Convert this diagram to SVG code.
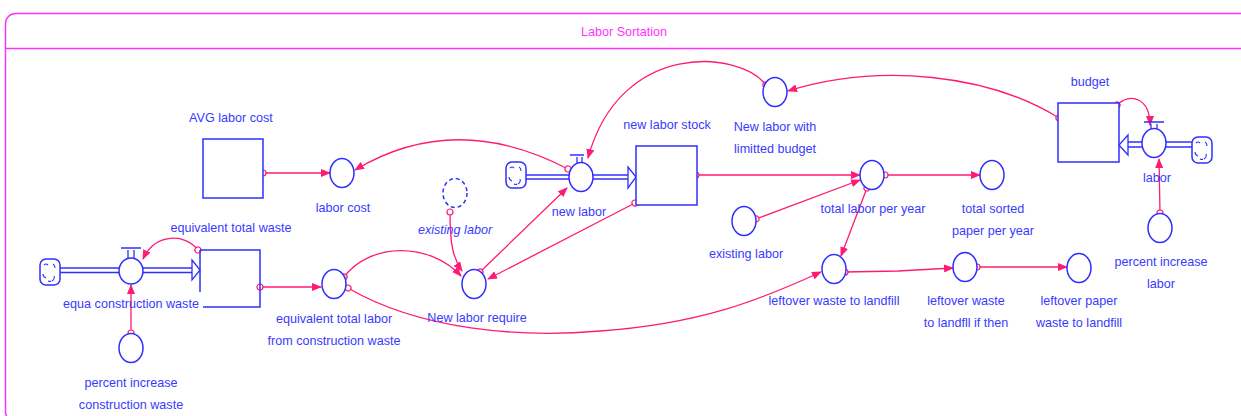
<svg xmlns="http://www.w3.org/2000/svg" width="1241" height="416" viewBox="0 0 1241 416">
<defs>
<style>
.t{font-family:"Liberation Sans",Arial,sans-serif;font-size:12.6px;fill:#3a3aff;text-anchor:middle}
.ti{font-style:italic}
.node{fill:#fff;stroke:#2f2fff;stroke-width:1.5}
.dash{stroke-dasharray:4,3}
.c{fill:none;stroke:#ff1a75;stroke-width:1.3;marker-start:url(#src);marker-end:url(#arr)}
.pipe{fill:none;stroke:#2f2fff;stroke-width:1.3}
.frame{fill:none;stroke:#ff33ff;stroke-width:1.5}
</style>
<marker id="arr" markerUnits="userSpaceOnUse" markerWidth="10" markerHeight="8" refX="9" refY="4" orient="auto"><path d="M0,0 L10,4 L0,8 z" fill="#ff1a75"/></marker>
<marker id="src" markerUnits="userSpaceOnUse" markerWidth="9" markerHeight="9" refX="4.5" refY="4.5" orient="auto"><circle cx="4.5" cy="4.5" r="3" fill="#fff" stroke="#ff1a75" stroke-width="1.2"/></marker>
<g id="cloud"><rect x="-10" y="-13" width="20" height="26" rx="6" class="node"/><path d="M-6,-7 q2,-2 4,0 M3,-8 q2,1 2,4 M-7,2 q0,3 3,4 M4,4 q1,3 -2,5 M-2,9 q2,1 3,0" fill="none" stroke="#2f2fff" stroke-width="1.1"/></g>
</defs>
<rect class="frame" x="5.5" y="13.5" width="1250" height="408" rx="10"/>
<line class="frame" x1="5.5" y1="48.5" x2="1241" y2="48.5"/>
<text x="624" y="36" style="font-family:'Liberation Sans',Arial,sans-serif;font-size:12.6px;fill:#ff33ff;text-anchor:middle">Labor Sortation</text>

<g id="connectors">
<path class="c" d="M263,173 L330,173"/>
<path class="c" d="M568,169 Q455,110 355,170"/>
<path class="c" d="M766,85 C740,50 620,40 588,158"/>
<path class="c" d="M1059,118 C990,75 880,62 788,91"/>
<path class="c" d="M1117,105 C1130,92 1150,98 1150,125"/>
<path class="c" d="M1160,213 L1159,159"/>
<path class="c" d="M696,175 L860,175"/>
<path class="c" d="M756,219 L860,180"/>
<path class="c" d="M885,175 L980,175"/>
<path class="c" d="M867,188 L841,256"/>
<path class="c" d="M845,272 L898,271 L953,268"/>
<path class="c" d="M977,267 L1067,267"/>
<path class="c" d="M344,277 C370,242 430,242 461,276"/>
<path class="c" d="M348,288 C420,330 520,338 600,331 C700,324 760,300 821,272"/>
<path class="c" d="M450,212 C450,245 453,258 462,271"/>
<path class="c" d="M480,272 L567,188"/>
<path class="c" d="M635,203 L488,279"/>
<path class="c" d="M260,287 L321,287"/>
<path class="c" d="M198,250 C185,233 155,233 143,259"/>
<path class="c" d="M131,333 L131,285"/>
</g>

<g id="flow-equa-construction-waste">
<use href="#cloud" x="50" y="272"/>
<line class="pipe" x1="60" y1="268" x2="193" y2="268"/>
<line class="pipe" x1="60" y1="272.5" x2="193" y2="272.5"/>
<path d="M192,260 L200,270 L192,280 z" fill="#fff" stroke="#2f2fff" stroke-width="1.3"/>
<ellipse class="node" cx="131" cy="271" rx="12" ry="13"/>
<path d="M121,248 L141,248 M128,250 L128,258 M134,250 L134,258" class="pipe" stroke-width="2"/>
<text class="t" x="131" y="308">equa construction waste</text>
</g>

<g id="stock-equivalent-total-waste">
<path d="M200,250 L200,292 M200,250 L260,250 L260,307 L203,307" fill="none" stroke="#2f2fff" stroke-width="1.5"/>
<text class="t" x="231" y="232">equivalent total waste</text>
</g>

<g id="aux-percent-increase-construction-waste">
<ellipse class="node" cx="131" cy="348" rx="12" ry="14.5"/>
<text class="t" x="131" y="387">percent increase</text>
<text class="t" x="131" y="409">construction waste</text>
</g>

<g id="aux-equivalent-total-labor">
<ellipse class="node" cx="334" cy="284" rx="12" ry="14.5"/>
<text class="t" x="334" y="323">equivalent total labor</text>
<text class="t" x="334" y="345">from construction waste</text>
</g>

<g id="stock-avg-labor-cost">
<rect class="node" x="203" y="139" width="60" height="59"/>
<text class="t" x="231" y="122">AVG labor cost</text>
</g>

<g id="aux-labor-cost">
<ellipse class="node" cx="342" cy="173" rx="12" ry="14.5"/>
<text class="t" x="343" y="212">labor cost</text>
</g>

<g id="ghost-existing-labor">
<ellipse class="node dash" cx="455" cy="193" rx="12" ry="14.5"/>
<text class="t ti" x="455" y="234">existing labor</text>
</g>

<g id="aux-new-labor-require">
<ellipse class="node" cx="474" cy="284" rx="12" ry="14.5"/>
<text class="t" x="477" y="322">New labor require</text>
</g>

<g id="flow-new-labor">
<use href="#cloud" x="516" y="175"/>
<line class="pipe" x1="526" y1="175" x2="629" y2="175"/>
<line class="pipe" x1="526" y1="179" x2="629" y2="179"/>
<path d="M628,167 L636,177 L628,188 z" fill="#fff" stroke="#2f2fff" stroke-width="1.3"/>
<ellipse class="node" cx="581" cy="177" rx="12" ry="14.5"/>
<path d="M570,155 L584,155 M577,157 L577,163 M582,157 L582,163" class="pipe" stroke-width="2"/>
<text class="t" x="579" y="216">new labor</text>
</g>

<g id="stock-new-labor-stock">
<rect class="node" x="636" y="146" width="61" height="59"/>
<text class="t" x="667" y="129">new labor stock</text>
</g>

<g id="aux-new-labor-with-limitted-budget">
<ellipse class="node" cx="775" cy="92" rx="12" ry="14.5"/>
<text class="t" x="775" y="131">New labor with</text>
<text class="t" x="775" y="153">limitted budget</text>
</g>

<g id="aux-existing-labor">
<ellipse class="node" cx="744" cy="221" rx="12" ry="14.5"/>
<text class="t" x="746" y="258">existing labor</text>
</g>

<g id="aux-total-labor-per-year">
<ellipse class="node" cx="872" cy="175" rx="12" ry="14.5"/>
<text class="t" x="873" y="213">total labor per year</text>
</g>

<g id="aux-total-sorted-paper">
<ellipse class="node" cx="992" cy="175" rx="12" ry="14.5"/>
<text class="t" x="993" y="213">total sorted</text>
<text class="t" x="993" y="235">paper per year</text>
</g>

<g id="aux-leftover-waste-to-landfill">
<ellipse class="node" cx="834" cy="269" rx="12" ry="14.5"/>
<text class="t" x="834" y="305">leftover waste to landfill</text>
</g>

<g id="aux-leftover-waste-if-then">
<ellipse class="node" cx="965" cy="267" rx="12" ry="14.5"/>
<text class="t" x="966" y="305">leftover waste</text>
<text class="t" x="966" y="327">to landfll if then</text>
</g>

<g id="aux-leftover-paper-waste">
<ellipse class="node" cx="1079" cy="268" rx="12" ry="14.5"/>
<text class="t" x="1079" y="305">leftover paper</text>
<text class="t" x="1079" y="327">waste to landfill</text>
</g>

<g id="stock-budget">
<rect class="node" x="1058" y="103" width="61" height="59"/>
<text class="t" x="1090" y="86">budget</text>
</g>

<g id="flow-labor">
<use href="#cloud" x="1202" y="150"/>
<line class="pipe" x1="1127" y1="142" x2="1192" y2="142"/>
<line class="pipe" x1="1127" y1="147" x2="1192" y2="147"/>
<path d="M1128,135 L1119,145 L1128,155 z" fill="#fff" stroke="#2f2fff" stroke-width="1.3"/>
<ellipse class="node" cx="1154" cy="143" rx="12" ry="14.5"/>
<path d="M1144,122 L1164,122 M1151,124 L1151,129 M1157,124 L1157,129" class="pipe" stroke-width="2"/>
<text class="t" x="1157" y="182">labor</text>
</g>

<g id="aux-percent-increase-labor">
<ellipse class="node" cx="1160" cy="228" rx="12" ry="14.5"/>
<text class="t" x="1161" y="266">percent increase</text>
<text class="t" x="1161" y="288">labor</text>
</g>
</svg>
